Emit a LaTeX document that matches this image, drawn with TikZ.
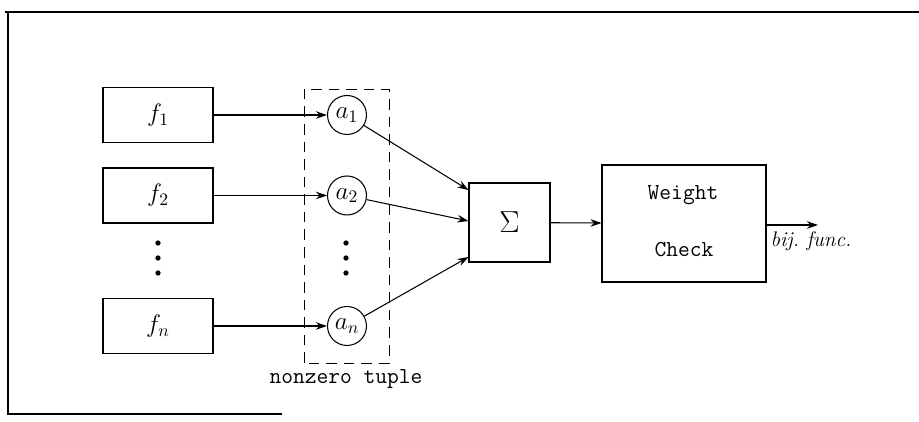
\documentclass[tikz,border=0pt]{standalone}
\usepackage{amsmath}
\usepackage{tikz}
\usetikzlibrary{arrows.meta,calc,positioning}
\tikzset{
  pfeil/.style={-{Stealth[length=2.2mm,width=1.5mm]},line width=0.6pt},
  fbox/.style={draw,line width=0.6pt,minimum width=2.2cm,minimum height=1.1cm,font=\Large},
  koeff/.style={draw,circle,line width=0.6pt,minimum size=0.78cm,inner sep=0pt,font=\Large},
  tupel/.style={line width=0.5pt,dash pattern=on 6pt off 4pt},
  rahmen/.style={line width=0.7pt},
  punkt/.style={circle,fill,inner sep=0pt,minimum size=3pt},
  schrift/.style={font=\fontsize{13}{15}\selectfont\ttfamily},
}

\begin{document}
\begin{tikzpicture}
  \useasboundingbox (0,0) rectangle (18.38,8.44);
  % ===== Rahmen =====
  \draw[rahmen] (0.10,8.20)--(18.38,8.20);
  \draw[rahmen] (0.16,8.20)--(0.16,0.16)--(5.64,0.16);
  % ===== links: Funktionen =====
  \node[fbox] (f1) at (3.16,6.14) {$f_1$};
  \node[fbox] (f2) at (3.16,4.53) {$f_2$};
  \node[fbox] (fn) at (3.16,1.92) {$f_n$};
  \foreach \y in {3.58,3.28,2.98}
    \node[punkt] at (3.16,\y) {};
  % ===== Tupel =====
  \node[koeff] (a1) at (6.94,6.14) {$a_1$};
  \node[koeff] (a2) at (6.94,4.53) {$a_2$};
  \node[koeff] (an) at (6.94,1.92) {$a_n$};
  \foreach \y in {3.58,3.28,2.98}
    \node[punkt] at (6.92,\y) {};
  \draw[tupel] (6.08,1.18) rectangle (7.78,6.66);
  \node[schrift] (nz) at (6.92,0.86) {nonzero tuple};
  \draw[pfeil] (f1) -- (a1);
  \draw[pfeil] (f2) -- (a2);
  \draw[pfeil] (fn) -- (an);
  % ===== Summe und Gewicht =====
  \node[draw,line width=0.6pt,minimum width=1.62cm,minimum height=1.58cm,font=\LARGE] (sig) at (10.19,3.99) {$\Sigma$};
  \node[draw,line width=0.6pt,minimum width=3.28cm,minimum height=2.34cm] (wc) at (13.68,3.97) {};
  \node[schrift] (w1) at (13.66,4.54) {Weight};
  \node[schrift] (w2) at (13.68,3.44) {Check};
  \draw[pfeil] (a1) -- ($(sig.west)+(0,0.65)$);
  \draw[pfeil] (a2) -- ($(sig.west)+(0,0.03)$);
  \draw[pfeil] (an) -- ($(sig.west)+(0,-0.69)$);
  \draw[pfeil] (sig) -- (wc);
  \coordinate (aus) at (16.36,3.94);
  \draw[pfeil] (wc.east |- aus) -- (aus);
  \node[font=\large\itshape] (bij) at (16.22,3.62) {bij.\ func.};
\end{tikzpicture}
\end{document}
